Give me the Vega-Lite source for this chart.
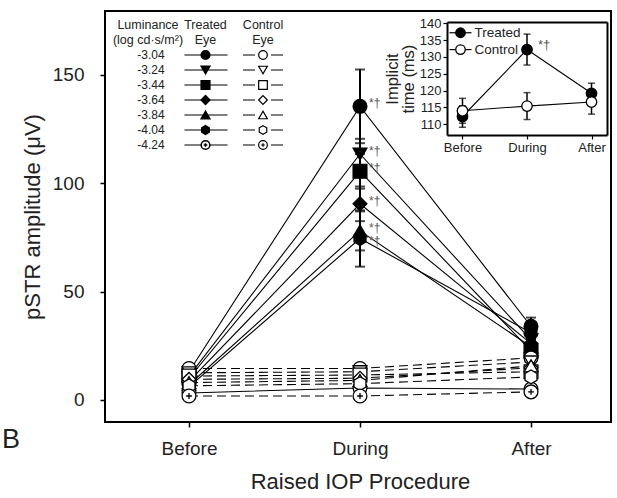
{
  "$schema": "https://vega.github.io/schema/vega-lite/v6.json",
  "width": 506,
  "height": 411,
  "autosize": {"type": "none"},
  "padding": {"left": 105, "top": 11, "right": 6, "bottom": 76},
  "background": "white",
  "config": {
    "font": "Liberation Sans",
    "view": {"stroke": "black", "strokeWidth": 2},
    "axis": {"labelColor": "#222", "titleColor": "#222", "tickColor": "black", "domainColor": "black", "grid": false, "titleFontWeight": "normal", "labelFont": "Liberation Sans", "titleFont": "Liberation Sans"},
    "text": {"font": "Liberation Sans"}
  },
  "title": {"text": "B", "orient": "top", "anchor": "start", "frame": "group", "fontSize": 27, "fontWeight": "normal", "color": "#222", "dx": -103, "dy": 464, "offset": 0, "baseline": "alphabetic"},
  "datasets": {
    "amp": [
      {"lum": "-3.04", "eye": "Treated", "phase": "Before", "amp": 13, "err": 1.5},
      {"lum": "-3.04", "eye": "Treated", "phase": "During", "amp": 135.5, "err": 17, "sig": "*†"},
      {"lum": "-3.04", "eye": "Treated", "phase": "After", "amp": 34, "err": 4},
      {"lum": "-3.24", "eye": "Treated", "phase": "Before", "amp": 11, "err": 1.2},
      {"lum": "-3.24", "eye": "Treated", "phase": "During", "amp": 113.5, "err": 7, "sig": "*†"},
      {"lum": "-3.24", "eye": "Treated", "phase": "After", "amp": 27.7, "err": 3},
      {"lum": "-3.44", "eye": "Treated", "phase": "Before", "amp": 10, "err": 1},
      {"lum": "-3.44", "eye": "Treated", "phase": "During", "amp": 105.5, "err": 8, "sig": "*†"},
      {"lum": "-3.44", "eye": "Treated", "phase": "After", "amp": 22.6, "err": 3},
      {"lum": "-3.64", "eye": "Treated", "phase": "Before", "amp": 8.5, "err": 1},
      {"lum": "-3.64", "eye": "Treated", "phase": "During", "amp": 90.5, "err": 8, "sig": "*†"},
      {"lum": "-3.64", "eye": "Treated", "phase": "After", "amp": 26, "err": 3},
      {"lum": "-3.84", "eye": "Treated", "phase": "Before", "amp": 7, "err": 1},
      {"lum": "-3.84", "eye": "Treated", "phase": "During", "amp": 78, "err": 9, "sig": "*†"},
      {"lum": "-3.84", "eye": "Treated", "phase": "After", "amp": 24.5, "err": 3},
      {"lum": "-4.04", "eye": "Treated", "phase": "Before", "amp": 6, "err": 1},
      {"lum": "-4.04", "eye": "Treated", "phase": "During", "amp": 74.5, "err": 13, "sig": "*†"},
      {"lum": "-4.04", "eye": "Treated", "phase": "After", "amp": 31, "err": 3},
      {"lum": "-4.24", "eye": "Treated", "phase": "Before", "amp": 3.2, "err": 0.8},
      {"lum": "-4.24", "eye": "Treated", "phase": "During", "amp": 5.5, "err": 1},
      {"lum": "-4.24", "eye": "Treated", "phase": "After", "amp": 5, "err": 1},
      {"lum": "-3.04", "eye": "Control", "phase": "Before", "amp": 14.5},
      {"lum": "-3.04", "eye": "Control", "phase": "During", "amp": 14.5},
      {"lum": "-3.04", "eye": "Control", "phase": "After", "amp": 19.4},
      {"lum": "-3.24", "eye": "Control", "phase": "Before", "amp": 12.5},
      {"lum": "-3.24", "eye": "Control", "phase": "During", "amp": 13},
      {"lum": "-3.24", "eye": "Control", "phase": "After", "amp": 17.5},
      {"lum": "-3.44", "eye": "Control", "phase": "Before", "amp": 11},
      {"lum": "-3.44", "eye": "Control", "phase": "During", "amp": 11.5},
      {"lum": "-3.44", "eye": "Control", "phase": "After", "amp": 13},
      {"lum": "-3.64", "eye": "Control", "phase": "Before", "amp": 9.5},
      {"lum": "-3.64", "eye": "Control", "phase": "During", "amp": 10},
      {"lum": "-3.64", "eye": "Control", "phase": "After", "amp": 14.8},
      {"lum": "-3.84", "eye": "Control", "phase": "Before", "amp": 8},
      {"lum": "-3.84", "eye": "Control", "phase": "During", "amp": 9},
      {"lum": "-3.84", "eye": "Control", "phase": "After", "amp": 15.7},
      {"lum": "-4.04", "eye": "Control", "phase": "Before", "amp": 6.5},
      {"lum": "-4.04", "eye": "Control", "phase": "During", "amp": 7.5},
      {"lum": "-4.04", "eye": "Control", "phase": "After", "amp": 10.6},
      {"lum": "-4.24", "eye": "Control", "phase": "Before", "amp": 1.8},
      {"lum": "-4.24", "eye": "Control", "phase": "During", "amp": 1.8},
      {"lum": "-4.24", "eye": "Control", "phase": "After", "amp": 3.7}
    ],
    "imp": [
      {"eye": "Treated", "phase": "Before", "t": 112.3, "err": 3.2},
      {"eye": "Treated", "phase": "During", "t": 132.2, "err": 4.6, "sig": "*†"},
      {"eye": "Treated", "phase": "After", "t": 119.2, "err": 3},
      {"eye": "Control", "phase": "Before", "t": 114, "err": 3.7},
      {"eye": "Control", "phase": "During", "t": 115.4, "err": 4},
      {"eye": "Control", "phase": "After", "t": 116.6, "err": 3.6}
    ],
    "hdr": [
      {"row": "h1", "col": "lum", "text": "Luminance"},
      {"row": "h2", "col": "lum", "text": "(log cd·s/m²)"},
      {"row": "h1", "col": "treated", "text": "Treated"},
      {"row": "h2", "col": "treated", "text": "Eye"},
      {"row": "h1", "col": "control", "text": "Control"},
      {"row": "h2", "col": "control", "text": "Eye"}
    ]
  },
  "layer": [
    {
      "data": {"name": "amp"},
      "encoding": {
        "x": {"field": "phase", "type": "ordinal", "scale": {"type": "point", "domain": ["Before", "During", "After"], "range": [84, 426], "padding": 0},
          "axis": {"orient": "bottom", "title": "Raised IOP Procedure", "domain": false, "tickSize": 5, "tickWidth": 1.5, "labelFontSize": 19, "labelPadding": 12, "labelAngle": 0, "titleFontSize": 22, "titlePadding": 13}},
        "y": {"field": "amp", "type": "quantitative", "scale": {"domain": [-10.2, 179.5], "nice": false, "zero": false},
          "axis": {"orient": "left", "title": "pSTR amplitude (μV)", "values": [0, 50, 100, 150], "domain": false, "tickSize": 5, "tickWidth": 1.5, "labelFontSize": 19, "labelPadding": 16, "titleFontSize": 22, "titlePadding": 8}}
      },
      "layer": [
        {"transform": [{"filter": "datum.eye === 'Control'"}], "mark": {"type": "line", "color": "black", "strokeWidth": 1.1, "strokeDash": [9, 5]}, "encoding": {"detail": {"field": "lum"}}},
        {"transform": [{"filter": "datum.eye === 'Treated'"}], "mark": {"type": "line", "color": "black", "strokeWidth": 1.1}, "encoding": {"detail": {"field": "lum"}}},
        {"transform": [{"filter": "datum.eye === 'Treated'"}], "mark": {"type": "errorbar", "ticks": true, "size": 10, "thickness": 2, "color": "black"}, "encoding": {"yError": {"field": "err"}, "detail": {"field": "lum"}}},
        {"transform": [{"filter": "datum.eye === 'Treated'"}], "mark": {"type": "point", "filled": true, "stroke": "black", "strokeWidth": 1.3, "size": 190, "opacity": 1},
          "encoding": {
            "shape": {"field": "lum", "scale": {"domain": ["-3.04", "-3.24", "-3.44", "-3.64", "-3.84", "-4.04", "-4.24"], "range": ["circle", "triangle-down", "square", "diamond", "triangle-up", "M0,-1L0.866,-0.5L0.866,0.5L0,1L-0.866,0.5L-0.866,-0.5Z", "M1,0A1,1,0,1,1,-1,0A1,1,0,1,1,1,0ZM-0.42,0L0.42,0M0,-0.42L0,0.42"]}, "legend": null},
            "fill": {"field": "lum", "scale": {"domain": ["-3.04", "-3.24", "-3.44", "-3.64", "-3.84", "-4.04", "-4.24"], "range": ["black", "black", "black", "black", "black", "black", "white"]}, "legend": null}
          }},
        {"transform": [{"filter": "datum.eye === 'Control'"}], "mark": {"type": "point", "filled": true, "fill": "white", "stroke": "black", "strokeWidth": 1.3, "size": 190, "opacity": 1},
          "encoding": {"shape": {"field": "lum", "legend": null}}},
        {"transform": [{"filter": "datum.sig && datum.lum !== '-4.04'"}], "mark": {"type": "text", "align": "left", "baseline": "middle", "dx": 9, "dy": -3, "fontSize": 12, "color": "#555"}, "encoding": {"text": {"field": "sig"}}},
        {"transform": [{"filter": "datum.sig && datum.lum === '-4.04'"}], "mark": {"type": "text", "align": "left", "baseline": "middle", "dx": 9, "dy": 3, "fontSize": 12, "color": "#555"}, "encoding": {"text": {"field": "sig"}}}
      ]
    },
    {
      "data": {"name": "imp"},
      "layer": [
        {"mark": {"type": "line", "color": "black", "strokeWidth": 1.1},
          "encoding": {
            "x": {"field": "phase", "type": "ordinal", "scale": {"type": "point", "domain": ["Before", "During", "After"], "range": [342, 502], "padding": 0.24},
              "axis": {"orient": "bottom", "offset": -287, "title": null, "domainWidth": 2, "tickSize": 4, "tickWidth": 1.2, "labelFontSize": 13, "labelPadding": 2, "labelAngle": 0}},
            "y": {"field": "t", "type": "quantitative", "scale": {"domain": [106.8, 140.4], "range": [124, 11], "nice": false, "zero": false},
              "axis": {"orient": "left", "offset": -342, "title": ["Implicit", "time (ms)"], "values": [110, 115, 120, 125, 130, 135, 140], "domainWidth": 2, "tickSize": 4, "tickWidth": 1.2, "labelFontSize": 13, "labelPadding": 2, "titleFontSize": 16.5, "titlePadding": 3, "titleLineHeight": 16}},
            "detail": {"field": "eye"}
          }},
        {"mark": {"type": "point", "opacity": 0},
          "encoding": {
            "x": {"field": "phase", "type": "ordinal", "axis": {"orient": "top", "offset": -11, "title": null, "labels": false, "ticks": false, "domainWidth": 2}},
            "y": {"field": "t", "type": "quantitative", "axis": {"orient": "right", "offset": -4, "title": null, "labels": false, "ticks": false, "domainWidth": 2}}
          }},
        {"mark": {"type": "errorbar", "ticks": true, "size": 7, "thickness": 1.5, "color": "black"},
          "encoding": {
            "x": {"field": "phase", "type": "ordinal", "axis": null},
            "y": {"field": "t", "type": "quantitative", "axis": null},
            "yError": {"field": "err"},
            "detail": {"field": "eye"}
          }},
        {"transform": [{"filter": "datum.eye === 'Treated'"}], "mark": {"type": "point", "shape": "circle", "filled": true, "fill": "black", "stroke": "black", "strokeWidth": 1.3, "size": 110, "opacity": 1},
          "encoding": {"x": {"field": "phase", "type": "ordinal", "axis": null}, "y": {"field": "t", "type": "quantitative", "axis": null}}},
        {"transform": [{"filter": "datum.eye === 'Control'"}], "mark": {"type": "point", "shape": "circle", "filled": true, "fill": "white", "stroke": "black", "strokeWidth": 1.3, "size": 110, "opacity": 1},
          "encoding": {"x": {"field": "phase", "type": "ordinal", "axis": null}, "y": {"field": "t", "type": "quantitative", "axis": null}}},
        {"transform": [{"filter": "datum.sig"}], "mark": {"type": "text", "align": "left", "baseline": "middle", "dx": 11, "dy": -5, "fontSize": 13, "color": "#555"},
          "encoding": {"x": {"field": "phase", "type": "ordinal", "axis": null}, "y": {"field": "t", "type": "quantitative", "axis": null}, "text": {"field": "sig"}}},
        {"data": {"values": [{"eye": "Treated"}]}, "mark": {"type": "rule", "color": "black", "strokeWidth": 1.2, "xOffset": -13, "x2Offset": 9},
          "encoding": {"x": {"datum": "Before", "type": "ordinal", "axis": null}, "x2": {"datum": "Before"}, "y": {"datum": 137.2, "type": "quantitative", "axis": null}}},
        {"data": {"values": [{"eye": "Control"}]}, "mark": {"type": "rule", "color": "black", "strokeWidth": 1.2, "xOffset": -13, "x2Offset": 9},
          "encoding": {"x": {"datum": "Before", "type": "ordinal", "axis": null}, "x2": {"datum": "Before"}, "y": {"datum": 132.2, "type": "quantitative", "axis": null}}},
        {"data": {"values": [{"eye": "Treated"}]}, "mark": {"type": "point", "shape": "circle", "filled": true, "fill": "black", "stroke": "black", "strokeWidth": 1.3, "size": 90, "opacity": 1, "xOffset": -2},
          "encoding": {"x": {"datum": "Before", "type": "ordinal", "axis": null}, "y": {"datum": 137.2, "type": "quantitative", "axis": null}}},
        {"data": {"values": [{"eye": "Control"}]}, "mark": {"type": "point", "shape": "circle", "filled": true, "fill": "white", "stroke": "black", "strokeWidth": 1.3, "size": 90, "opacity": 1, "xOffset": -2},
          "encoding": {"x": {"datum": "Before", "type": "ordinal", "axis": null}, "y": {"datum": 132.2, "type": "quantitative", "axis": null}}},
        {"data": {"values": [{"eye": "Treated"}]}, "mark": {"type": "text", "align": "left", "baseline": "middle", "dx": 12, "fontSize": 13.5, "color": "#222"},
          "encoding": {"x": {"datum": "Before", "type": "ordinal", "axis": null}, "y": {"datum": 137.2, "type": "quantitative", "axis": null}, "text": {"field": "eye"}}},
        {"data": {"values": [{"eye": "Control"}]}, "mark": {"type": "text", "align": "left", "baseline": "middle", "dx": 12, "fontSize": 13.5, "color": "#222"},
          "encoding": {"x": {"datum": "Before", "type": "ordinal", "axis": null}, "y": {"datum": 132.2, "type": "quantitative", "axis": null}, "text": {"field": "eye"}}}
      ],
      "resolve": {"axis": {"x": "independent", "y": "independent"}}
    },
    {
      "layer": [
        {"data": {"name": "hdr"}, "mark": {"type": "text", "align": "center", "baseline": "middle", "fontSize": 12.5, "color": "#222"},
          "encoding": {
            "x": {"field": "col", "type": "ordinal", "scale": {"type": "point", "domain": ["lum", "treated", "control"], "range": [43, 158], "padding": 0}, "axis": null},
            "y": {"field": "row", "type": "ordinal", "scale": {"type": "point", "domain": ["h1", "h2", "-3.04", "-3.24", "-3.44", "-3.64", "-3.84", "-4.04", "-4.24"], "range": [14, 134], "padding": 0}, "axis": null},
            "text": {"field": "text"}
          }},
        {"data": {"name": "amp"}, "transform": [{"filter": "datum.eye === 'Treated' && datum.phase === 'Before'"}],
          "mark": {"type": "text", "align": "center", "baseline": "middle", "fontSize": 12, "color": "#222", "dx": 3},
          "encoding": {"x": {"datum": "lum", "type": "ordinal", "axis": null}, "y": {"field": "lum", "type": "ordinal", "axis": null}, "text": {"field": "lum"}}},
        {"data": {"name": "amp"}, "transform": [{"filter": "datum.eye === 'Treated' && datum.phase === 'Before'"}],
          "mark": {"type": "rule", "color": "black", "strokeWidth": 1.2, "xOffset": -21, "x2Offset": 22},
          "encoding": {"x": {"datum": "treated", "type": "ordinal", "axis": null}, "x2": {"datum": "treated"}, "y": {"field": "lum", "type": "ordinal", "axis": null}}},
        {"data": {"name": "amp"}, "transform": [{"filter": "datum.eye === 'Control' && datum.phase === 'Before'"}],
          "mark": {"type": "rule", "color": "black", "strokeWidth": 1.2, "xOffset": -20, "x2Offset": 20, "strokeDash": [12, 16]},
          "encoding": {"x": {"datum": "control", "type": "ordinal", "axis": null}, "x2": {"datum": "control"}, "y": {"field": "lum", "type": "ordinal", "axis": null}}},
        {"data": {"name": "amp"}, "transform": [{"filter": "datum.eye === 'Treated' && datum.phase === 'Before'"}],
          "mark": {"type": "point", "filled": true, "stroke": "black", "strokeWidth": 1.5, "size": 75, "opacity": 1},
          "encoding": {"x": {"datum": "treated", "type": "ordinal", "axis": null}, "y": {"field": "lum", "type": "ordinal", "axis": null},
            "shape": {"field": "lum", "legend": null},
            "fill": {"field": "lum", "legend": null}}},
        {"data": {"name": "amp"}, "transform": [{"filter": "datum.eye === 'Control' && datum.phase === 'Before'"}],
          "mark": {"type": "point", "filled": true, "fill": "white", "stroke": "black", "strokeWidth": 1.2, "size": 75, "opacity": 1},
          "encoding": {"x": {"datum": "control", "type": "ordinal", "axis": null}, "y": {"field": "lum", "type": "ordinal", "axis": null},
            "shape": {"field": "lum", "legend": null}}}
      ]
    }
  ],
  "resolve": {"scale": {"x": "independent", "y": "independent"}, "axis": {"x": "independent", "y": "independent"}}
}
